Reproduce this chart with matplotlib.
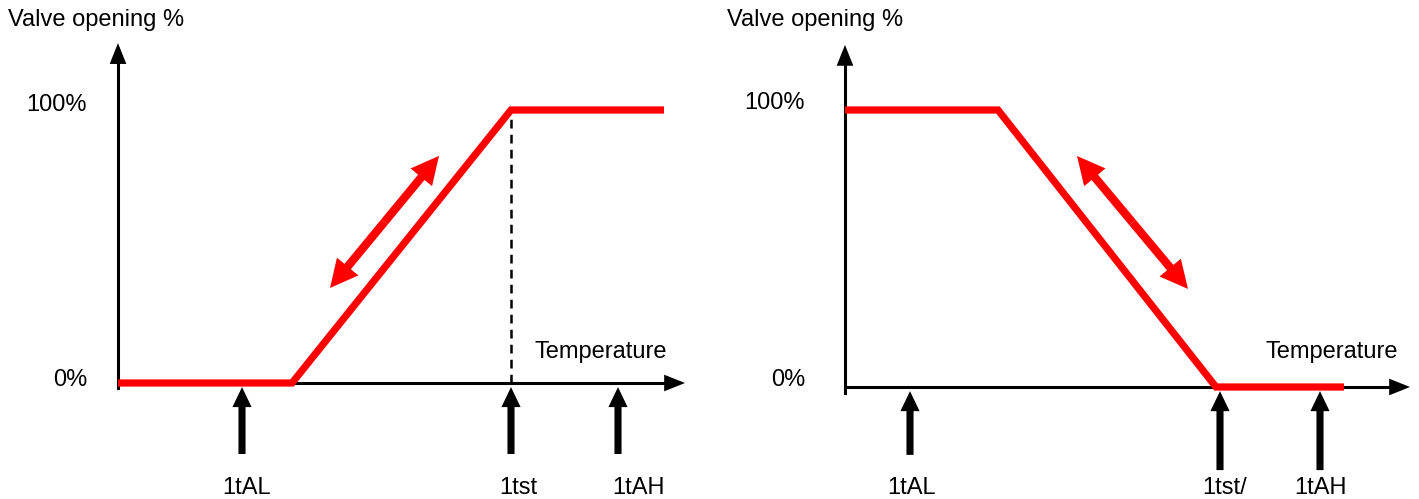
import matplotlib
matplotlib.use("Agg")
import matplotlib.pyplot as plt

plt.rcParams['font.family'] = ['Liberation Sans', 'DejaVu Sans']

W, H = 1419, 499
RED = '#ff0000'
FS = 17

# heating valve (left): temperature in arbitrary units from the axis origin, opening in %
heat_temp = [0, 174, 393, 546]
heat_open = [0, 0, 100, 100]
heat_marks = [124, 393, 500]
heat_mark_labels = ['1tAL', '1tst', '1tAH']
heat_label_x = [129, 400, 521]

# cooling valve (right)
cool_temp = [0, 153, 371, 499]
cool_open = [100, 100, 0, 0]
cool_marks = [65, 375, 475]
cool_mark_labels = ['1tAL', '1tst/', '1tAH']
cool_label_x = [67, 380, 475]


def arrow(ax, start, end, color, ms, hw, hl, tw):
    ax.annotate("", xy=end, xytext=start,
                arrowprops=dict(arrowstyle=f"simple,head_length={hl},head_width={hw},tail_width={tw}",
                                mutation_scale=ms, color=color, shrinkA=0, shrinkB=0, lw=0))


def panel(fig, x0, y0, sy, temp, opening, marks, labels, label_x, opt):
    ax = fig.add_axes([0, 0, 1, 1])
    ax.set_xlim(-x0, W - x0)
    ax.set_ylim((y0 - H) / sy, y0 / sy)
    ax.axis('off')
    ax.patch.set_alpha(0)

    px = 1 / sy  # one pixel in % units
    # axes
    ax.plot([0, 0], [opt['ybot'], opt['ytop'] - 12 * px], color='black', lw=2.2)
    arrow(ax, (0, opt['ytop'] - 14 * px), (0, opt['ytop']), 'black', 20, 0.6, 0.75, 0.11)
    ax.plot([0, opt['xend'] - 12], [0, 0], color='black', lw=2.2)
    arrow(ax, (opt['xend'] - 14, 0), (opt['xend'], 0), 'black', 20, 0.6, 0.75, 0.11)

    if opt.get('dash') is not None:
        ax.plot([opt['dash'], opt['dash']], [0, 100], color='black', lw=1.8,
                linestyle=(0, (3.5, 2.5)))

    ax.plot(temp, opening, color=RED, lw=5.2, solid_joinstyle='miter',
            solid_capstyle='butt', zorder=3)

    # double arrow
    (ax1, ay1), (ax2, ay2) = opt['dbl']
    mid = ((ax1 + ax2) / 2, (ay1 + ay2) / 2)
    arrow(ax, mid, (ax1, ay1), RED, 40, 0.5, 0.5, 0.15)
    arrow(ax, mid, (ax2, ay2), RED, 40, 0.5, 0.5, 0.15)

    # set-point arrows under the axis
    for m, base in zip(marks, opt['mark_base']):
        arrow(ax, (m, base), (m, -1.5), 'black', 30, 0.46, 0.48, 0.17)
    for lx, lab in zip(label_x, labels):
        ax.text(lx, opt['label_y'], lab, ha='center', va='center', fontsize=FS)

    ax.text(opt['title_x'], opt['title_y'], 'Valve opening %', ha='left', va='center', fontsize=FS)
    ax.text(opt['tick_x'], opt['y100'], '100%', ha='right', va='center', fontsize=FS)
    ax.text(opt['tick_x'], opt['y0'], '0%', ha='right', va='center', fontsize=FS)
    ax.text(opt['temp_x'], opt['temp_y'], 'Temperature', ha='center', va='center', fontsize=FS)
    return ax


fig = plt.figure(figsize=(W / 100, H / 100), dpi=100)

panel(fig, 118, 383, 2.73, heat_temp, heat_open, heat_marks, heat_mark_labels, heat_label_x,
      dict(ybot=-2.0, ytop=124.5, xend=567, dash=393, dbl=[(212, 34.8), (321, 83.2)],
           mark_base=[-26, -26, -26], label_y=-38.3, title_x=-110, title_y=133,
           tick_x=-31, y100=101.8, y0=1.1, temp_x=483, temp_y=11.4))

panel(fig, 845, 387, 2.77, cool_temp, cool_open, cool_marks, cool_mark_labels, cool_label_x,
      dict(ybot=-2.2, ytop=123.5, xend=565, dash=None, dbl=[(232, 83.4), (343, 35.4)],
           mark_base=[-24.5, -30, -30], label_y=-36.3, title_x=-118, title_y=132.5,
           tick_x=-40, y100=102.5, y0=2.5, temp_x=487, temp_y=12.6))

fig.savefig('out.png', dpi=100)
